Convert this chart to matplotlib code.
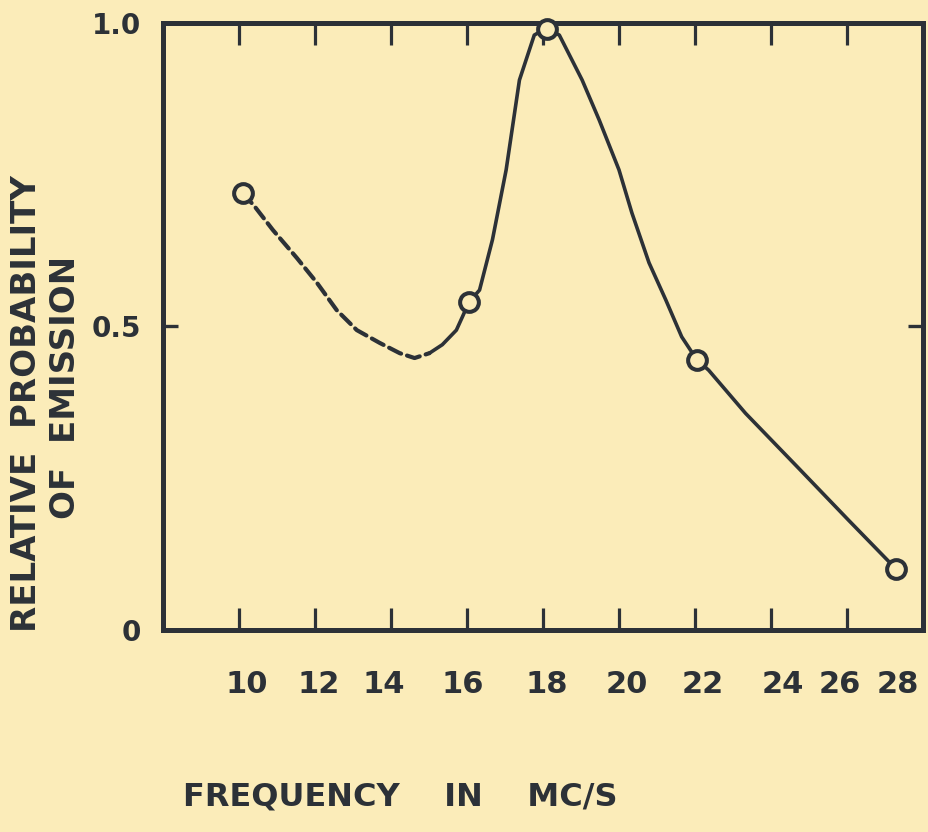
"""
Relative probability of emission vs frequency (re-drawn from an old scanned figure).
"""

import matplotlib
matplotlib.use("Agg")
import matplotlib.pyplot as plt


# ── Dữ liệu ───────────────────────────────────────────────────────────
# Measured points (open circles)
point_freq = [10.1, 16.05, 18.1, 22.05, 27.3]
point_prob = [0.72, 0.54, 0.99, 0.445, 0.10]

# Dashed part of the hand-drawn curve (10 -> ~15 MC/s)
dashed_freq = [10.1, 10.42, 10.89, 11.52, 12.05, 12.57, 13.10, 13.70, 14.23, 14.62, 15.01]
dashed_prob = [0.72, 0.697, 0.659, 0.613, 0.572, 0.527, 0.494, 0.473, 0.456, 0.448, 0.456]

# Solid part of the curve (~15 -> 28 MC/s)
solid_freq = [15.01, 15.35, 15.72, 15.88, 16.05, 16.33, 16.67, 17.03, 17.38, 17.77,
              18.1, 18.43, 19.03, 19.48, 20.0, 20.34, 20.79, 21.23, 21.65, 22.05,
              22.36, 23.33, 24.72, 26.04, 27.3]
solid_prob = [0.456, 0.470, 0.494, 0.516, 0.54, 0.560, 0.643, 0.758, 0.906, 0.980,
              0.992, 0.980, 0.906, 0.840, 0.758, 0.687, 0.605, 0.544, 0.483, 0.445,
              0.428, 0.357, 0.267, 0.181, 0.10]

# Tick marks (unlabelled) and the hand-lettered labels below the axis
tick_marks = [10, 12, 14, 16, 18, 20, 22, 24, 26]
xtick_labels = ["10", "12", "14", "16", "18", "20", "22", "24", "26", "28"]
xtick_label_pos = [10.2, 12.1, 13.8, 15.9, 18.1, 20.2, 22.2, 24.3, 25.8, 27.35]

yticks = [0, 0.5, 1.0]
ytick_labels = ["0", "0.5", "1.0"]

PAPER = "#fbecb9"
INK = "#2c3137"


def main() -> None:
    fig = plt.figure(figsize=(9.29, 8.32), dpi=100, facecolor=PAPER)
    ax = fig.add_axes([0.1755, 0.2428, 0.818, 0.7296], facecolor=PAPER)

    # Đường cong nét đứt + nét liền
    ax.plot(dashed_freq, dashed_prob, color=INK, lw=3.0, dashes=(3.2, 1.5),
            solid_capstyle="round", dash_capstyle="round")
    ax.plot(solid_freq, solid_prob, color=INK, lw=2.6, solid_capstyle="round")

    # Điểm đo (vòng tròn rỗng)
    ax.plot(point_freq, point_prob, linestyle="none", marker="o", ms=13.5,
            mfc=PAPER, mec=INK, mew=2.9, zorder=5, clip_on=False)

    ax.set_xlim(8, 28)
    ax.set_ylim(0, 1)

    for side in ax.spines.values():
        side.set_linewidth(3.6)
        side.set_color(INK)

    # x: minor = tick marks, major = labels only
    ax.set_xticks(tick_marks, minor=True)
    ax.set_xticks(xtick_label_pos)
    ax.set_xticklabels(xtick_labels, fontsize=22, fontweight="bold", color=INK)
    ax.tick_params(axis="x", which="minor", direction="in", length=16, width=2.3,
                   color=INK, top=True, bottom=True)
    ax.tick_params(axis="x", which="major", length=0, pad=29)

    ax.set_yticks(yticks)
    ax.set_yticklabels(ytick_labels, fontsize=20, fontweight="bold", color=INK)
    ax.tick_params(axis="y", direction="in", length=11, width=2.4, color=INK,
                   left=True, right=True, pad=16)

    # Nhãn trục
    fig.text(0.028, 0.515, "RELATIVE  PROBABILITY", rotation=90, ha="center",
             va="center", fontsize=24.5, fontweight="bold", color=INK)
    fig.text(0.071, 0.534, "OF  EMISSION", rotation=90, ha="center",
             va="center", fontsize=24.5, fontweight="bold", color=INK)
    fig.text(0.197, 0.023, "FREQUENCY    IN    MC/S", ha="left", va="bottom",
             fontsize=23, fontweight="bold", color=INK)

    fig.savefig("out.png", dpi=100, facecolor=PAPER)
    plt.close(fig)


if __name__ == "__main__":
    main()
